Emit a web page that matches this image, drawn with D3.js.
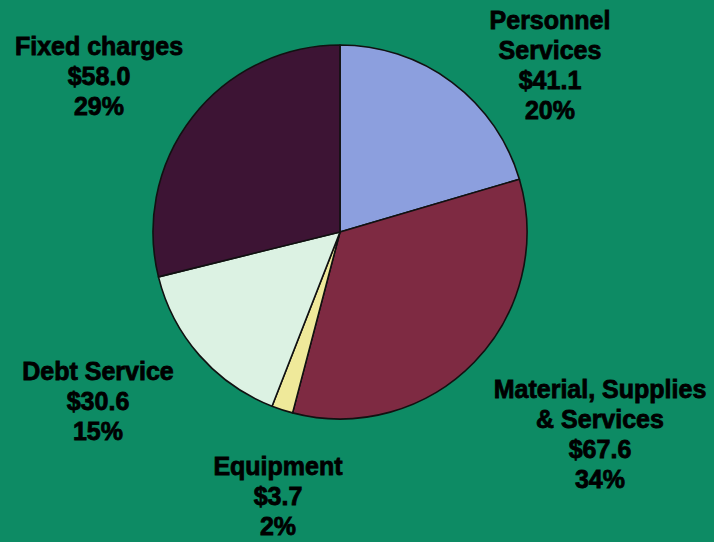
<!DOCTYPE html>
<html>
<head>
<meta charset="utf-8">
<script src="https://cdn.jsdelivr.net/npm/d3@7"></script>
<style>
  html, body { margin: 0; padding: 0; background: #0d8b64; }
  svg { display: block; }
  .lbl { font-family: "Liberation Sans", Arial, sans-serif; font-weight: bold; font-size: 25px; fill: #000; stroke: #000; stroke-width: 0.8px; }
</style>
</head>
<body>
<script>
// Budget categories, amounts ($ millions) and their shares
const categories = ["Personnel Services", "Material, Supplies & Services", "Equipment", "Debt Service", "Fixed charges"];
const amounts = [41.1, 67.6, 3.7, 30.6, 58.0];
const percents = ["20%", "34%", "2%", "15%", "29%"];
const labelLines = [
  ["Personnel", "Services"],
  ["Material, Supplies", "& Services"],
  ["Equipment"],
  ["Debt Service"],
  ["Fixed charges"]
];
const colors = ["#8c9fde", "#7e2a42", "#efe99a", "#dcf2e3", "#3d1434"];

const W = 714, H = 542;
const cx = 340, cy = 232, R = 187;

const svg = d3.select("body").append("svg").attr("width", W).attr("height", H);
svg.append("rect").attr("width", W).attr("height", H).attr("fill", "#0d8b64");

const pie = d3.pie().sort(null).value(d => d)(amounts);
const arc = d3.arc().innerRadius(0).outerRadius(R);

const g = svg.append("g").attr("transform", `translate(${cx},${cy})`);
g.selectAll("path").data(pie).join("path")
  .attr("d", arc)
  .attr("fill", (d, i) => colors[i])
  .attr("stroke", "#111")
  .attr("stroke-width", 1.6)
  .attr("stroke-linejoin", "round");

// Label block anchors (centre x, first baseline)
const labelPos = [
  [550, 29],
  [600, 398],
  [278, 475],
  [98, 380],
  [99, 55]
];
const lineH = 30;

categories.forEach((c, i) => {
  const lines = labelLines[i].concat(["$" + amounts[i].toFixed(1), percents[i]]);
  const t = svg.append("text").attr("class", "lbl").attr("text-anchor", "middle");
  lines.forEach((s, k) => {
    t.append("tspan").attr("x", labelPos[i][0]).attr("y", labelPos[i][1] + k * lineH).text(s);
  });
});
</script>
</body>
</html>
